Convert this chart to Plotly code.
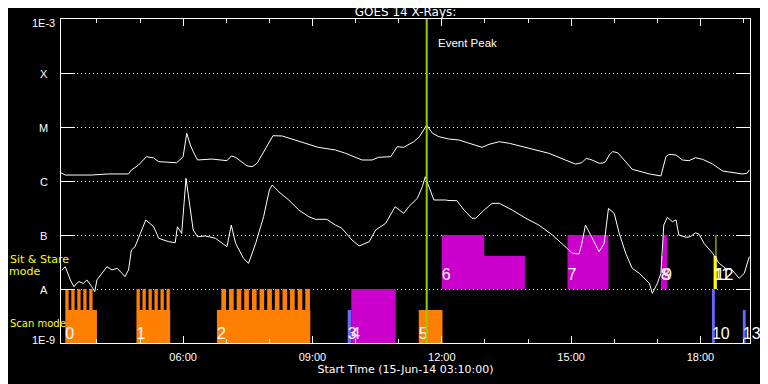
import math
from datetime import datetime, timedelta
import plotly.graph_objects as go

DAY = "2014-06-15"

# ---------------- GOES light curves (W/m^2) ----------------
long_time = ["03:10","03:16","03:52","04:16","04:44","04:48","04:58","05:09","05:19","05:26",
             "05:51","06:00","06:05","06:10","06:14","06:20","06:40","07:01","07:07","07:13",
             "07:29","07:36","07:43","07:54","08:05","08:18","08:36","08:54","09:08","09:32",
             "09:46","10:09","10:23","10:32","10:49","10:58","11:07","11:21","11:29","11:39",
             "11:47","11:56","12:10","12:24","12:42","12:56","13:06","13:20","13:34","14:01",
             "14:29","14:52","15:06","15:15","15:21","15:29","15:39","15:44","15:48","15:53",
             "15:58","16:05","16:25","16:49","17:05","17:12","17:16","17:26","17:35","17:44",
             "17:53","18:03","18:17","18:31","18:49","18:58","19:05","19:08"]
long_flux = [1.42e-6,1.29e-6,1.29e-6,1.35e-6,1.35e-6,1.6e-6,1.98e-6,2.82e-6,2.67e-6,2.28e-6,
             2.18e-6,2.82e-6,7.64e-6,4.64e-6,3.5e-6,2.45e-6,2.55e-6,2.38e-6,2.9e-6,2.75e-6,
             1.9e-6,1.84e-6,2.13e-6,3.75e-6,6.9e-6,6.81e-6,5.74e-6,4.84e-6,4.2e-6,3.75e-6,
             3.26e-6,2.45e-6,2.45e-6,2.75e-6,2.82e-6,4.32e-6,4.2e-6,5.34e-6,6.61e-6,1.09e-5,
             7.64e-6,6.61e-6,5.99e-6,5.74e-6,4.78e-6,4.2e-6,4.78e-6,5.34e-6,4.99e-6,4.03e-6,
             3.26e-6,2.45e-6,2.06e-6,2.18e-6,2.63e-6,2.45e-6,2.13e-6,2.15e-6,2.28e-6,3.03e-6,
             3.5e-6,3.34e-6,1.65e-6,1.35e-6,1.24e-6,2.82e-6,3.12e-6,3.03e-6,2.45e-6,2.38e-6,
             2.7e-6,2.52e-6,2.06e-6,1.53e-6,1.42e-6,1.35e-6,1.39e-6,1.6e-6]

short_time = ["03:11","03:16","03:23","03:28","03:32","03:35","03:41","03:46","03:53","03:57",
              "04:00","04:07","04:14","04:21","04:28","04:35","04:39","04:44","04:48","04:53",
              "05:00","05:08","05:19","05:26","05:40","05:49","05:52","05:58","06:04","06:09",
              "06:14","06:20","06:31","06:45","07:01","07:07","07:13","07:24","07:31","07:41",
              "07:52","08:00","08:04","08:13","08:27","08:41","08:55","09:04","09:20","09:32",
              "09:41","09:55","10:05","10:19","10:28","10:42","10:55","11:07","11:14","11:26",
              "11:33","11:37","11:42","11:49","12:05","12:10","12:21","12:31","12:42","12:47",
              "12:59","13:10","13:20","13:38","13:57","14:15","14:34","14:52","15:02","15:11",
              "15:15","15:20","15:27","15:32","15:39","15:46","15:52","16:00","16:07","16:16",
              "16:25","16:35","16:49","16:53","17:00","17:05","17:09","17:14","17:21","17:26",
              "17:30","17:40","17:46","17:53","17:58","18:05","18:17","18:26","18:35","18:44",
              "18:54","19:01","19:05","19:08"]
short_flux = [2.25e-8,2.59e-8,1.47e-8,1.1e-8,1.27e-8,1.37e-8,1.27e-8,1.47e-8,1.1e-8,8.9e-9,
              1.47e-8,1.95e-8,2.59e-8,2.25e-8,2.42e-8,1.95e-8,1.69e-8,2.25e-8,5.27e-8,6.07e-8,
              1.0e-7,1.9e-7,1.42e-7,8.69e-8,7.51e-8,7.2e-8,1.42e-7,1.07e-7,1.12e-6,3.34e-7,
              1.24e-7,9.3e-8,9.6e-8,8.69e-8,6.07e-8,1.53e-7,7.02e-8,3.7e-8,2.99e-8,7.02e-8,
              2.18e-7,6.81e-7,8.43e-7,6.34e-7,4.45e-7,2.9e-7,2.18e-7,1.95e-7,1.95e-7,1.53e-7,
              1.33e-7,8.08e-8,6.26e-8,7.51e-8,1.24e-7,1.65e-7,3.34e-7,2.52e-7,3.34e-7,4.78e-7,
              7.84e-7,1.2e-6,7.84e-7,4.45e-7,4.45e-7,4.35e-7,4.32e-7,2.9e-7,2.04e-7,2.04e-7,
              2.9e-7,3.86e-7,3.86e-7,2.9e-7,2.04e-7,1.53e-7,1.0e-7,6.07e-8,4.58e-8,4.45e-8,
              7.02e-8,1.53e-7,1.0e-7,7.51e-8,4.91e-8,7.02e-8,3.12e-7,2.52e-7,1.07e-7,4.58e-8,
              2.42e-8,1.95e-8,1.27e-8,8.3e-9,1.27e-8,1.95e-8,1.53e-7,2.13e-7,1.76e-7,1.9e-7,
              1.0e-7,9.07e-8,9.3e-8,1.1e-7,1.04e-7,7.02e-8,4.58e-8,2.99e-8,2.42e-8,2.25e-8,
              1.58e-8,1.95e-8,2.99e-8,3.97e-8]

assert len(long_time) == len(long_flux)
assert len(short_time) == len(short_flux)

# ---------------- axes ----------------
x_start = "03:10:00"
x_end = "19:09:00"
y_tick_vals = [1e-3, 1e-4, 1e-5, 1e-6, 1e-7, 1e-8, 1e-9]
y_tick_text = ["1E-3", "X", "M", "C", "B", "A", "1E-9"]
event_peak = "11:39:00"

# ---------------- observation blocks ----------------
blk_label = ["0", "1", "2", "3", "4", "5", "6", "7", "8", "9", "10", "11", "12", "13"]
blk_start = ["03:16", "04:55", "06:47", "09:49", "09:54", "11:28", "12:00", "14:55",
             "17:05", "17:08", "18:16", "18:18:20", "18:21", "18:59"]
blk_end = ["04:00", "05:42", "08:57", "09:54", "10:56", "12:01", "13:56", "15:52",
           "17:14", "17:14", "18:20", "18:22:50", "18:22:15", "19:03"]
blk_bottom = [1e-9, 1e-9, 1e-9, 1e-9, 1e-9, 1e-9, 1e-8, 1e-8, 1e-8, 1e-8, 1e-9, 1e-8, 1e-8, 1e-9]
blk_top = [4.1e-9, 4.1e-9, 4.1e-9, 4.1e-9, 1e-8, 4.1e-9, 4.1e-8, 1e-7, 4.1e-8, 1e-7,
           1e-8, 4.1e-8, 1e-7, 4.1e-9]
blk_kind = ["a", "a", "a", "b", "c", "a", "c", "c", "c", "c", "b", "d", "d", "b"]

# rasters inside blocks (taller narrow parts)
ras_block = [0] * 5 + [1] * 6 + [2] * 12 + [6]
ras_start = ["03:16:00", "03:24:20", "03:32:40", "03:41:00", "03:49:20",
             "04:55:06", "05:03:24", "05:11:48", "05:20:06", "05:28:30", "05:36:48",
             "06:53:12", "07:03:54", "07:14:30", "07:25:00", "07:35:48", "07:46:18",
             "07:57:00", "08:07:36", "08:18:18", "08:28:48", "08:39:24", "08:50:00",
             "12:00:00"]
ras_minutes = [4.6] * 11 + [6.5] * 12 + [59]
ras_top = [1e-8] * 23 + [1e-7]

KIND_COLOR = {"a": "#FF8000", "b": "#6868FF", "c": "#CC00CC", "d": "#FFFF00"}
# where the block number sits, per panel floor
LABEL_LEVEL = {1e-9: 1e-9, 1e-8: 1.24e-8}


def ts(s):
    fmt = "%Y-%m-%d %H:%M:%S" if s.count(":") == 2 else "%Y-%m-%d %H:%M"
    return datetime.strptime(DAY + " " + s, fmt)


polys = {k: ([], []) for k in KIND_COLOR}
for i in range(len(blk_label)):
    xs, ys = polys[blk_kind[i]]
    x0, x1 = ts(blk_start[i]), ts(blk_end[i])
    b, t = blk_bottom[i], blk_top[i]
    xs += [x0, x0, x1, x1, x0, None]
    ys += [b, t, t, b, b, None]
for j in range(len(ras_block)):
    i = ras_block[j]
    xs, ys = polys[blk_kind[i]]
    x0 = ts(ras_start[j])
    x1 = x0 + timedelta(minutes=ras_minutes[j])
    b, t = blk_bottom[i], ras_top[j]
    xs += [x0, x0, x1, x1, x0, None]
    ys += [b, t, t, b, b, None]

FONT = "Liberation Sans"
FONT2 = "DejaVu Sans"
fig = go.Figure()

for k, color in KIND_COLOR.items():
    xs, ys = polys[k]
    if xs:
        fig.add_trace(go.Scatter(x=xs, y=ys, mode="lines", fill="toself",
                                 fillcolor=color, line=dict(width=0, color=color),
                                 hoverinfo="skip"))

# block labels
fig.add_trace(go.Scatter(x=[ts(s) for s in blk_start],
                         y=[LABEL_LEVEL[b] for b in blk_bottom], text=blk_label,
                         mode="text", textposition="top right", cliponaxis=False,
                         textfont=dict(size=16, color="white", family=FONT),
                         hoverinfo="skip"))

# GOES curves
fig.add_trace(go.Scatter(x=[ts(s) for s in long_time], y=long_flux, mode="lines",
                         line=dict(color="white", width=1), hoverinfo="skip"))
fig.add_trace(go.Scatter(x=[ts(s) for s in short_time], y=short_flux, mode="lines",
                         line=dict(color="white", width=1), hoverinfo="skip"))

# event peak line
fig.add_trace(go.Scatter(x=[ts(event_peak), ts(event_peak)], y=[1e-9, 1e-3], mode="lines",
                         line=dict(color="#99CC00", width=2), hoverinfo="skip"))

annotations = []
for v, t in zip(y_tick_vals, y_tick_text):
    shift = -4 if v == 1e-3 else (3 if v == 1e-9 else -1)
    annotations.append(dict(x=-0.0247, xref="paper", y=math.log10(v), yref="y",
                            text=t, showarrow=False, xanchor="center", yanchor="middle",
                            yshift=shift, font=dict(size=11, color="white", family=FONT)))
annotations += [
    dict(x=ts(event_peak), xref="x", y=0.926, yref="paper", text="Event Peak",
         showarrow=False, xanchor="left", yanchor="middle", xshift=9,
         font=dict(size=11.5, color="white", family=FONT)),
    dict(x=-0.0769, xref="paper", y=0.259, yref="paper", text="Sit & Stare",
         showarrow=False, xanchor="left", yanchor="middle",
         font=dict(size=11, color="#FFFF00", family=FONT2)),
    dict(x=-0.0533, xref="paper", y=0.222, yref="paper", text="mode",
         showarrow=False, xanchor="center", yanchor="middle",
         font=dict(size=11, color="#FFFF00", family=FONT2)),
    dict(x=-0.0769, xref="paper", y=0.0617, yref="paper", text="Scan mode",
         showarrow=False, xanchor="left", yanchor="middle",
         font=dict(size=10, color="#FFFF00", family=FONT2)),
]

fig.update_layout(
    width=760, height=376, autosize=False,
    paper_bgcolor="black", plot_bgcolor="black",
    showlegend=False,
    margin=dict(l=53, r=18, t=11, b=41, pad=0),
    title=dict(text="GOES 14 X-Rays:", x=0.5, xref="paper", y=1.0, yref="container",
               xanchor="center", yanchor="top", pad=dict(t=0, b=0, l=0, r=0),
               font=dict(size=12, color="white", family=FONT2)),
    annotations=annotations,
    font=dict(family=FONT, color="white"),
)

fig.update_xaxes(
    type="date", range=[ts(x_start), ts(x_end)],
    tick0=DAY + " 00:00:00", dtick=3 * 3600000, tickformat="%H:%M",
    ticks="inside", ticklen=7, tickcolor="white", tickwidth=1,
    ticklabelstandoff=4,
    minor=dict(dtick=3600000, tick0=DAY + " 00:00:00", ticks="inside", ticklen=4,
               tickcolor="white", tickwidth=1, showgrid=False),
    showline=True, linecolor="white", linewidth=1, mirror="ticks",
    showgrid=False, zeroline=False,
    tickfont=dict(size=11, color="white", family=FONT),
    title=dict(text="Start Time (15-Jun-14 03:10:00)", standoff=1,
               font=dict(size=11, color="white", family=FONT2)),
)
fig.update_yaxes(
    type="log", range=[-9, -3],
    tickvals=y_tick_vals, showticklabels=False,
    ticks="inside", ticklen=14, tickcolor="white", tickwidth=1,
    showline=True, linecolor="white", linewidth=1, mirror="ticks",
    showgrid=True, gridcolor="white", gridwidth=1, griddash="1px,3px",
    zeroline=False,
)

fig.write_html("out.html")
